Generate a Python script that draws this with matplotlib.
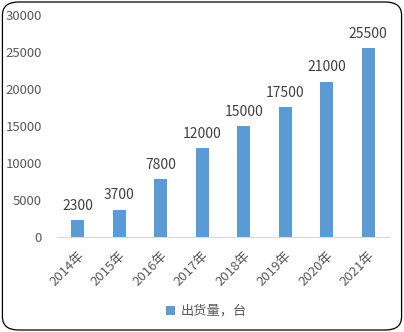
import matplotlib.pyplot as plt
from matplotlib.patches import FancyBboxPatch

years = ['2014年', '2015年', '2016年', '2017年', '2018年', '2019年', '2020年', '2021年']
shipments = [2300, 3700, 7800, 12000, 15000, 17500, 21000, 25500]
yticks = [0, 5000, 10000, 15000, 20000, 25000, 30000]

plt.rcParams['font.family'] = ['Noto Sans CJK SC', 'DejaVu Sans']
txt = '#595959'
blue = '#5B9BD5'

fig = plt.figure(figsize=(4.04, 3.32), dpi=100)
ax = fig.add_axes([0.141, 0.286, 0.822, 0.669])

bars = ax.bar(years, shipments, width=0.31, color=blue, label='出货量，台')
for b, v in zip(bars, shipments):
    ax.text(b.get_x() + b.get_width() / 2, v + 1000, str(v), ha='center', va='bottom',
            fontsize=10, color='#404040')

ax.set_ylim(0, 30000)
ax.set_xlim(-0.5, len(years) - 0.5)
ax.set_yticks(yticks)
ax.set_yticklabels([str(t) for t in yticks])
ax.tick_params(axis='y', length=0, labelsize=9.5, labelcolor=txt, pad=11)
ax.tick_params(axis='x', length=0, labelsize=9.5, labelcolor=txt, pad=9)
for lab in ax.get_xticklabels():
    lab.set_rotation(45)
    lab.set_ha('right')
    lab.set_rotation_mode('anchor')

for s in ['top', 'right', 'left']:
    ax.spines[s].set_visible(False)
ax.spines['bottom'].set_color('#D9D9D9')

fig.legend(loc='center', bbox_to_anchor=(0.51, 0.062), frameon=False, fontsize=9.5,
           labelcolor=txt, handlelength=0.7, handleheight=0.7, handletextpad=0.4)

border = FancyBboxPatch((0.006, 0.006), 0.988, 0.988, boxstyle='round,pad=0,rounding_size=0.04',
                        transform=fig.transFigure, fill=False, edgecolor='black', linewidth=0.9)
fig.patches.append(border)

fig.savefig('out.png', dpi=100)
